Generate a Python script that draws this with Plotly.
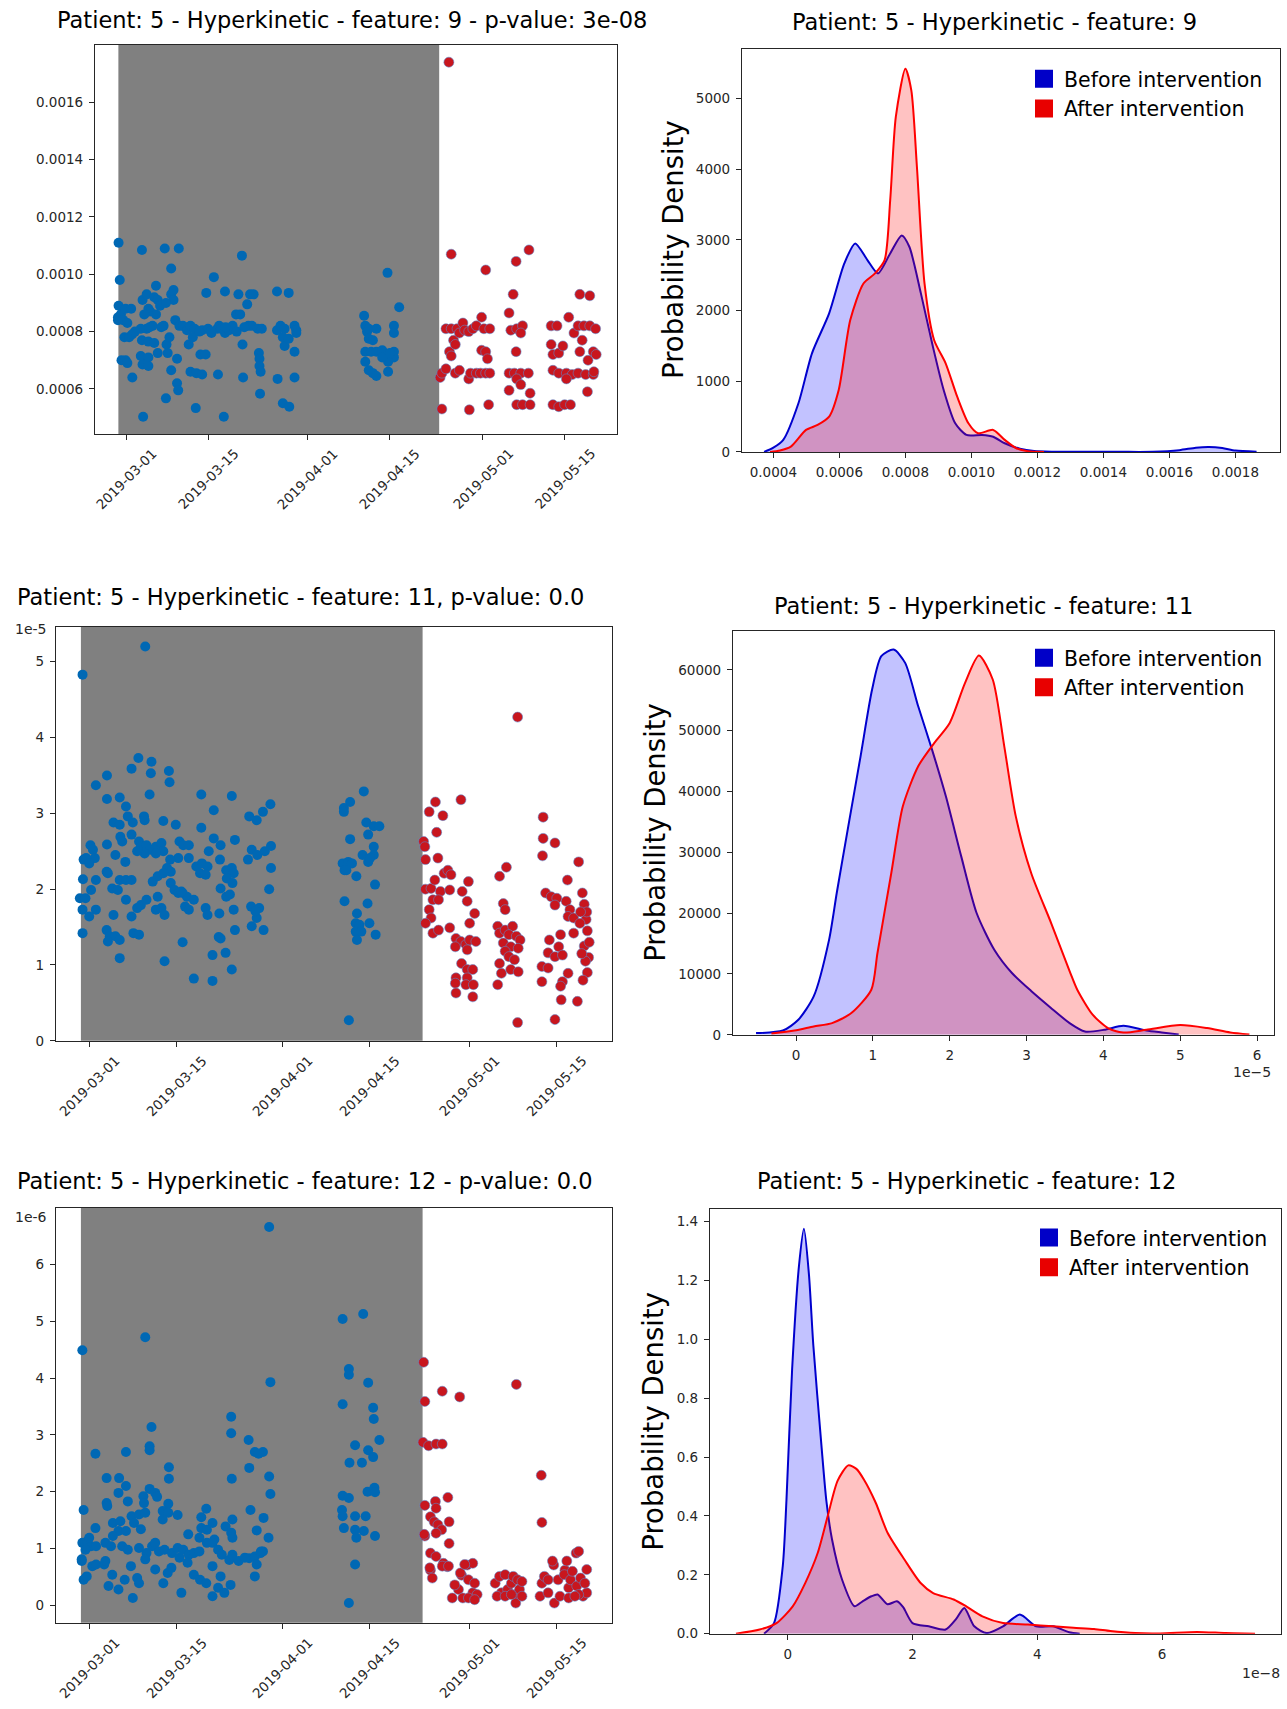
import pandas as pd
import plotly.graph_objects as go

FIG_W, FIG_H = 1287, 1709
BASE_DAY = pd.Timestamp("2019-03-01")

DATE_TICKS = ["2019-03-01", "2019-03-15", "2019-04-01", "2019-04-15", "2019-05-01", "2019-05-15"]
SHADE_START, SHADE_END = "2019-02-27 16:00", "2019-04-23 13:00"
DATE_RANGE = ["2019-02-23 16:00", "2019-05-23 23:00"]

# ---- feature 9 scatter: (days after 2019-03-01, value in 1e-4)
f9_before = [
    (-1.3, 11.1), (-1.1, 9.8), (-1.3, 8.9), (-1.4, 8.5), (-0.9, 8.6), (-0.1, 8.8), (0.85, 8.8), (-1.4, 8.4),
    (-0.5, 8.4), (0.2, 8.3), (-0.8, 7.0), (-0.1, 7.0), (0.2, 6.9), (-0.3, 7.8), (0.5, 7.8), (1.0, 7.9), (1.05, 6.4),
    (2.7, 10.85), (2.9, 5.03), (2.8, 9.1), (3.5, 9.3), (3.8, 8.8), (4.1, 8.7), (3.1, 8.6), (2.5, 8.1), (3.5, 8.1),
    (4.5, 8.2), (5.1, 9.6), (4.8, 9.2), (5.4, 9.1), (5.8, 8.9), (5.1, 8.6), (2.7, 7.7), (3.8, 7.65), (4.8, 7.6),
    (2.5, 7.15), (3.8, 7.1), (2.8, 6.85), (3.8, 6.8), (6.4, 8.2), (6.9, 7.55), (5.4, 7.25), (1.5, 8.0), (4.0, 8.15),
    (6.0, 8.15), (6.6, 10.9), (7.7, 10.2), (9.0, 10.9), (7.7, 9.3), (8.1, 9.45), (8.1, 9.1), (6.8, 9.0), (7.1, 7.25),
    (7.7, 6.65), (8.7, 7.05), (6.8, 5.67), (8.7, 6.2), (8.9, 5.95), (7.4, 7.8), (8.4, 8.4), (9.1, 8.2), (9.7, 8.2),
    (10.4, 8.05), (11.0, 8.2), (11.7, 8.1), (10.7, 7.55), (11.4, 7.8), (11.9, 5.33), (11.0, 6.6), (12.0, 6.55),
    (13.0, 6.5), (12.7, 7.2), (13.6, 7.2), (13.0, 8.05), (14.0, 8.1), (15.0, 9.9), (13.7, 9.35), (14.6, 7.95),
    (15.6, 8.1), (15.9, 8.2), (15.7, 6.5), (16.7, 5.03), (16.9, 9.4), (16.9, 7.95), (17.6, 8.05), (18.2, 8.2),
    (18.9, 8.0), (19.2, 9.3), (18.8, 8.6), (19.5, 8.6), (19.8, 10.65), (20.0, 6.4), (19.9, 7.55), (20.7, 8.95),
    (21.2, 9.3), (21.8, 9.3), (20.9, 8.2), (21.5, 8.2), (22.5, 8.1), (23.2, 8.1), (22.7, 7.25), (22.8, 7.05),
    (22.8, 6.8), (23.0, 6.6), (22.9, 5.83), (12.5, 8.0), (14.5, 8.0), (16.2, 8.1), (17.0, 8.15), (20.2, 8.15),
    (25.8, 9.4), (27.8, 9.35), (25.8, 8.05), (26.4, 8.2), (27.1, 8.1), (26.8, 7.8), (27.1, 7.5), (27.8, 7.75),
    (28.8, 8.2), (29.1, 8.05), (29.1, 7.95), (28.8, 7.3), (25.9, 6.35), (28.8, 6.4), (26.8, 5.5), (27.9, 5.38),
    (40.7, 8.55), (40.9, 8.2), (41.2, 8.0), (41.5, 8.1), (42.8, 8.1), (41.5, 7.75), (42.2, 7.7), (40.9, 7.3),
    (41.9, 7.3), (42.8, 7.3), (43.8, 7.35), (40.9, 6.95), (41.5, 6.65), (42.2, 6.55), (42.8, 6.45), (44.7, 10.05),
    (45.8, 8.2), (45.8, 7.95), (46.7, 8.85), (45.8, 7.3), (45.8, 7.1), (44.8, 6.95), (44.8, 6.6), (43.8, 7.1),
    (45.1, 7.25),
]
f9_after = [
    (55.2, 17.4), (55.6, 10.7), (54.0, 5.3), (53.7, 6.4), (54.0, 6.55), (54.7, 6.7), (55.3, 7.3), (55.6, 7.15),
    (54.7, 8.1), (55.6, 8.1), (56.6, 8.1), (56.0, 7.7), (56.3, 7.55), (57.0, 7.95), (57.6, 8.3), (57.9, 8.05),
    (58.6, 8.0), (59.3, 8.1), (59.9, 8.2), (60.8, 8.5), (61.2, 8.1), (62.2, 8.1), (56.3, 6.55), (57.0, 6.65),
    (58.6, 6.35), (58.9, 6.55), (59.9, 6.55), (60.6, 6.55), (61.5, 6.55), (62.2, 6.55), (58.7, 5.27), (62.0, 5.45),
    (60.8, 7.35), (61.5, 7.3), (61.8, 7.05), (61.5, 10.15),
    (66.7, 10.45), (68.9, 10.85), (66.2, 9.3), (65.5, 8.65), (65.8, 8.05), (66.8, 8.1), (67.8, 8.2), (67.5, 7.95),
    (66.7, 7.3), (65.5, 6.55), (66.4, 6.55), (67.5, 6.55), (68.8, 6.55), (66.8, 6.35), (67.5, 6.15), (65.5, 5.95),
    (69.1, 5.85), (66.8, 5.45), (67.8, 5.45), (69.1, 5.45),
    (72.7, 8.2), (73.7, 8.2), (75.7, 8.5), (72.7, 7.55), (73.0, 7.2), (74.0, 7.25), (74.7, 7.5), (73.0, 6.65),
    (74.0, 6.55), (75.3, 6.55), (76.3, 6.5), (77.3, 6.55), (78.6, 6.5), (79.9, 6.5), (75.3, 6.35), (73.0, 5.45),
    (74.0, 5.38), (75.0, 5.45), (76.0, 5.45), (78.9, 5.9), (77.6, 9.3), (79.3, 9.25), (76.6, 7.95), (77.3, 8.2),
    (78.3, 8.2), (79.3, 8.2), (78.0, 7.7), (77.6, 7.3), (79.9, 7.3), (80.3, 8.1), (80.0, 6.6), (79.0, 7.0),
    (80.4, 7.2),
]

# ---- feature 11 scatter: (days, value in 1e-5)
f11_before = [
    (-1.07, 4.83), (9.0, 5.2), (1.07, 3.37), (2.85, 3.5), (7.9, 3.73), (6.8, 3.59), (10.0, 3.68), (9.9, 3.53),
    (12.8, 3.56), (12.9, 3.41), (9.7, 3.25), (18.0, 3.25), (22.9, 3.23), (20.0, 3.04), (2.85, 3.19), (4.9, 3.21),
    (5.9, 3.09), (6.2, 2.96), (8.8, 2.96), (8.9, 2.91), (3.9, 2.88), (4.9, 2.85), (7.0, 2.88), (11.9, 2.9),
    (13.9, 2.85), (18.0, 2.81), (25.7, 2.96), (26.9, 2.91), (27.9, 3.02), (29.1, 3.12), (23.4, 2.65), (20.0, 2.67),
    (21.1, 2.58), (2.85, 2.59), (0.2, 2.58), (0.6, 2.52), (-0.9, 2.39), (-0.5, 2.41), (0.9, 2.41), (0.0, 2.34),
    (5.0, 2.69), (5.3, 2.63), (6.8, 2.72), (8.0, 2.63), (8.3, 2.56), (9.2, 2.58), (9.8, 2.52), (10.7, 2.56),
    (11.6, 2.61), (11.9, 2.5), (10.7, 2.47), (8.9, 2.47), (7.7, 2.5), (4.2, 2.45), (5.8, 2.36), (14.5, 2.63),
    (15.1, 2.58), (16.0, 2.58), (16.0, 2.41), (14.3, 2.41), (13.0, 2.39), (12.5, 2.28), (13.1, 2.23), (17.2, 2.3),
    (18.1, 2.34), (19.0, 2.3), (17.8, 2.21), (18.7, 2.19), (19.2, 2.5), (21.0, 2.39), (22.0, 2.25), (22.9, 2.28),
    (23.2, 2.21), (25.5, 2.39), (26.1, 2.52), (27.0, 2.45), (28.2, 2.5), (29.2, 2.57), (29.2, 2.28), (22.1, 2.14),
    (23.0, 2.08), (21.1, 2.01), (28.9, 2.0), (-1.0, 2.13), (-1.5, 1.88), (-1.07, 1.73), (-0.6, 1.88), (0.3, 1.99),
    (1.07, 2.12), (0.0, 1.64), (1.07, 1.73), (-1.07, 1.42), (2.8, 2.23), (3.0, 2.21), (3.7, 2.01), (4.6, 1.99),
    (4.9, 2.12), (5.9, 2.12), (6.8, 2.12), (5.9, 1.86), (3.9, 1.66), (6.8, 1.64), (7.7, 1.75), (8.3, 1.79),
    (9.2, 1.86), (10.2, 2.1), (11.0, 2.17), (11.9, 2.21), (13.1, 2.08), (13.7, 1.99), (14.3, 1.95), (15.0, 1.95),
    (15.7, 1.9), (16.8, 1.86), (15.4, 1.77), (14.8, 1.97), (11.0, 1.9), (10.7, 1.73), (11.6, 1.75), (12.1, 1.66),
    (16.0, 1.73), (18.7, 1.75), (19.0, 1.66), (20.9, 1.68), (23.2, 1.73), (22.0, 1.9), (22.6, 1.93), (2.8, 1.46),
    (3.3, 1.38), (4.2, 1.38), (3.0, 1.31), (4.9, 1.33), (7.1, 1.42), (8.0, 1.4), (4.9, 1.09), (12.1, 1.05),
    (15.0, 1.3), (20.8, 1.37), (21.1, 1.35), (23.4, 1.46), (19.8, 1.13), (21.9, 1.16), (22.9, 0.94), (16.8, 0.82),
    (19.8, 0.79), (26.1, 1.51), (26.9, 1.62), (27.3, 1.75), (26.0, 1.77), (28.0, 1.46), (26.7, 1.71),
    (40.9, 3.07), (41.9, 3.15), (44.1, 3.29), (40.9, 3.02), (41.9, 2.66), (44.5, 2.88), (44.8, 2.72), (45.7, 2.83),
    (46.6, 2.83), (45.7, 2.56), (45.7, 2.45), (43.9, 2.45), (44.8, 2.36), (45.1, 2.41), (40.7, 2.34), (41.6, 2.36),
    (42.2, 2.34), (41.0, 2.25), (41.3, 2.25), (42.9, 2.17), (45.9, 2.06), (41.0, 1.84), (44.7, 1.81), (43.0, 1.68),
    (42.8, 1.55), (43.4, 1.53), (42.8, 1.44), (43.7, 1.44), (43.0, 1.33), (45.0, 1.55), (46.0, 1.4), (41.7, 0.27),
]
f11_after = [
    (53.7, 2.63), (53.9, 2.56), (54.0, 2.39), (54.6, 3.02), (55.6, 3.15), (56.8, 2.97), (55.8, 2.75), (56.0, 2.41),
    (59.7, 3.18), (54.0, 2.0), (54.9, 2.01), (55.5, 2.12), (56.4, 1.97), (57.0, 2.21), (57.6, 2.25), (58.1, 2.19),
    (57.9, 1.99), (55.2, 1.86), (56.1, 1.86), (54.6, 1.73), (54.9, 1.62), (54.0, 1.55), (55.2, 1.42), (56.1, 1.46),
    (57.9, 1.49), (59.9, 1.97), (60.9, 2.1), (60.7, 1.84), (61.9, 1.68), (61.1, 1.55), (58.9, 1.35), (59.7, 1.31),
    (60.5, 1.27), (61.1, 1.33), (62.1, 1.31), (58.8, 1.24), (60.7, 1.2), (59.8, 1.02), (60.7, 0.94), (61.6, 0.94),
    (58.9, 0.83), (58.8, 0.76), (60.7, 0.83), (60.5, 0.74), (61.7, 0.74), (58.9, 0.63), (61.6, 0.58),
    (68.8, 4.27), (65.9, 2.17), (67.0, 2.29), (66.5, 1.81), (66.8, 1.73), (65.6, 1.51), (65.9, 1.42), (66.8, 1.46),
    (68.0, 1.51), (67.4, 1.4), (68.6, 1.38), (69.2, 1.33), (66.5, 1.29), (67.7, 1.24), (68.9, 1.22), (66.8, 1.18),
    (67.4, 1.11), (68.3, 1.07), (65.9, 1.02), (66.2, 0.89), (67.7, 0.94), (68.9, 0.91), (65.6, 0.74), (68.8, 0.24),
    (72.9, 2.95), (72.9, 2.67), (74.8, 2.61), (72.8, 2.44), (76.8, 2.12), (73.3, 1.95), (74.2, 1.9), (75.1, 1.88),
    (74.8, 1.79), (76.6, 1.84), (77.2, 1.73), (76.9, 1.64), (77.8, 1.62), (77.8, 1.42), (73.9, 1.33), (75.7, 1.4),
    (75.4, 1.24), (73.7, 1.16), (74.8, 1.11), (76.0, 1.13), (72.7, 0.98), (73.7, 0.96), (76.9, 0.89), (72.7, 0.78),
    (76.0, 0.78), (75.7, 0.72), (75.8, 0.54), (78.4, 0.52), (74.8, 0.28), (78.6, 2.36), (79.2, 1.95), (79.5, 1.8),
    (79.8, 1.6), (80.0, 1.45), (79.5, 1.25), (80.2, 1.1), (79.7, 1.05), (80.0, 0.9), (79.3, 0.8), (79.9, 1.7),
    (80.3, 1.3), (78.8, 1.55), (78.9, 1.7), (79.1, 1.15),
]

# ---- feature 12 scatter: (days, value in 1e-6)
f12_before = [
    (28.9, 6.66), (29.1, 3.93), (-1.1, 4.49), (9.0, 4.72), (40.7, 5.04), (44.0, 5.13), (41.7, 4.16), (41.7, 4.06),
    (44.8, 3.92), (40.7, 3.54), (45.6, 3.48), (45.7, 3.28), (46.6, 2.91), (42.7, 2.82), (44.8, 2.73), (45.6, 2.61),
    (41.8, 2.51), (43.8, 2.51), (44.7, 2.0), (45.8, 2.07), (45.9, 1.99), (40.7, 1.93), (41.7, 1.89), (40.6, 1.68),
    (40.7, 1.57), (40.9, 1.36), (42.7, 1.57), (44.4, 1.57), (42.7, 1.33), (44.1, 1.31), (42.9, 1.19), (45.9, 1.22),
    (42.7, 0.72), (41.7, 0.04),
    (1.0, 2.67), (5.9, 2.7), (10.0, 3.14), (9.7, 2.8), (9.7, 2.73), (12.8, 2.43), (12.8, 2.23), (22.8, 3.32),
    (22.8, 3.03), (22.9, 2.23), (25.6, 2.91), (25.7, 2.42), (26.6, 2.7), (27.9, 2.7), (27.2, 2.67), (28.9, 2.27),
    (29.1, 1.96), (2.8, 2.24), (4.8, 2.24), (5.9, 2.1), (4.7, 1.98), (6.2, 1.83), (2.8, 1.8), (2.9, 1.75),
    (8.7, 1.92), (8.8, 1.8), (9.7, 2.05), (10.6, 1.98), (10.9, 1.91), (12.7, 1.79), (11.8, 1.66), (12.7, 1.63),
    (11.8, 1.51), (-0.9, 1.68), (1.0, 1.36), (-1.1, 1.1), (-0.3, 1.13), (0.3, 1.04), (-0.6, 0.98), (0.0, 1.19),
    (-1.2, 0.78), (3.8, 1.45), (5.0, 1.48), (4.7, 1.31), (3.8, 1.22), (5.9, 1.31), (6.8, 1.57), (8.0, 1.6),
    (9.0, 1.63), (7.2, 1.45), (8.3, 1.34), (14.2, 1.59), (18.8, 1.7), (18.0, 1.55), (18.0, 1.36), (19.8, 1.45),
    (18.9, 1.33), (17.7, 1.19), (15.9, 1.25), (20.1, 1.16), (21.9, 1.39), (22.8, 1.28), (23.0, 1.51), (23.0, 1.19),
    (25.9, 1.68), (26.9, 1.32), (28.0, 1.54), (28.8, 1.19), (1.1, 1.04), (2.6, 1.1), (3.5, 1.04), (5.3, 1.04),
    (6.2, 0.98), (8.0, 1.01), (9.2, 0.92), (10.1, 1.04), (10.6, 1.1), (11.2, 0.95), (12.1, 0.98), (13.3, 0.92),
    (14.2, 1.01), (15.1, 0.98), (16.0, 0.89), (16.8, 0.92), (17.7, 0.95), (18.9, 1.1), (19.8, 1.1), (20.7, 0.98),
    (21.3, 0.89), (22.5, 0.8), (25.7, 0.83), (26.6, 0.86), (27.5, 0.92), (27.9, 0.95),
    (-1.2, 0.81), (-0.9, 0.45), (-0.4, 0.51), (0.5, 0.69), (1.1, 0.72), (2.4, 0.72), (2.6, 0.78), (3.1, 0.34),
    (3.7, 0.54), (4.7, 0.28), (5.7, 0.45), (7.0, 0.13), (6.7, 0.69), (7.7, 0.48), (8.0, 0.39), (9.0, 0.81),
    (10.6, 0.63), (11.9, 0.39), (12.6, 0.57), (13.2, 0.66), (14.8, 0.22), (16.8, 0.54), (17.8, 0.45), (18.8, 0.39),
    (19.8, 0.16), (20.7, 0.31), (21.1, 0.51), (21.7, 0.22), (22.7, 0.36), (24.0, 0.78), (25.0, 0.84), (26.6, 0.51),
    (26.9, 0.72), (15.8, 0.75), (14.5, 0.84), (19.8, 0.69), (23.0, 0.89), (27.6, 0.95),
]
f12_after = [
    (53.7, 4.28), (53.9, 3.59), (56.7, 3.77), (59.5, 3.67), (68.6, 3.89), (53.6, 2.87), (54.5, 2.81), (55.7, 2.84),
    (56.7, 2.84), (72.6, 2.29), (72.7, 1.46), (53.9, 1.76), (55.6, 1.83), (55.7, 1.71), (57.6, 1.9), (54.8, 1.56),
    (55.4, 1.47), (56.0, 1.42), (57.8, 1.47), (56.6, 1.33), (55.7, 1.27), (53.9, 1.22), (57.8, 1.09), (54.8, 0.92),
    (55.7, 0.86), (56.9, 0.74), (57.5, 0.68), (59.8, 0.53), (60.7, 0.71), (61.6, 0.74), (54.8, 0.62), (74.6, 0.71),
    (78.2, 0.92), (76.4, 0.62),
    (53.8, 1.25), (54.7, 0.66), (55.1, 0.48), (56.7, 0.69), (57.7, 0.69), (58.3, 0.13), (59.3, 0.28), (59.6, 0.57),
    (60.3, 0.72), (60.9, 0.45), (61.6, 0.22), (61.9, 0.39), (62.3, 0.19), (58.7, 0.36), (60.0, 0.13), (60.9, 0.13),
    (61.9, 0.1), (65.2, 0.39), (65.9, 0.51), (66.2, 0.22), (66.8, 0.54), (67.2, 0.28), (67.8, 0.39), (68.1, 0.51),
    (68.5, 0.19), (68.8, 0.45), (69.1, 0.28), (68.5, 0.04), (65.5, 0.16), (66.8, 0.16), (67.8, 0.19), (69.5, 0.16),
    (69.5, 0.42), (72.4, 0.16), (72.7, 0.39), (73.1, 0.51), (73.7, 0.45), (74.4, 0.78), (74.7, 0.04), (75.3, 0.45),
    (76.3, 0.54), (76.7, 0.78), (77.0, 0.31), (77.3, 0.45), (77.6, 0.6), (78.3, 0.34), (78.6, 0.95), (78.9, 0.48),
    (79.3, 0.16), (79.9, 0.63), (79.9, 0.22), (75.6, 0.16), (73.7, 0.22), (77.0, 0.13), (78.6, 0.19), (79.6, 0.39),
    (78.0, 0.16),
]

# ---- KDE curves
kde9_before_x = [3.72, 4.0, 4.3, 4.76, 5.17, 5.69, 6.15, 6.48, 6.85, 7.17, 7.54, 7.89, 8.12, 8.47, 8.81, 9.16,
                 9.51, 9.85, 10.32, 10.66, 11.01, 11.47, 11.9, 12.5, 13.5, 14.5, 15.5, 16.3, 16.8, 17.2, 17.6,
                 18.0, 18.64]  # x in 1e-4
kde9_before_y = [0, 60, 170, 688, 1395, 1960, 2666, 2950, 2713, 2525, 2808, 3062, 2902, 2243, 1536, 876,
                 405, 240, 240, 215, 122, 45, 12, 3, 1, 1, 2, 25, 60, 70, 55, 20, 3]
kde9_after_x = [3.9, 4.2, 4.53, 4.99, 5.34, 5.69, 5.98, 6.33, 6.73, 7.08, 7.37, 7.54, 7.71, 8.0, 8.18, 8.35,
                8.58, 8.87, 9.22, 9.57, 9.91, 10.2, 10.66, 11.01, 11.36, 11.71, 12.2]
kde9_after_y = [0, 20, 75, 311, 381, 499, 876, 1865, 2383, 2525, 2713, 3561, 4738, 5422, 5115, 4031,
                2383, 1583, 1253, 781, 405, 264, 311, 170, 52, 10, 0]

kde11_before_x = [-0.52, -0.17, 0.03, 0.23, 0.43, 0.53, 0.68, 0.84, 0.99, 1.11, 1.27, 1.42, 1.59, 1.77, 1.95,
                  2.15, 2.35, 2.58, 2.81, 3.06, 3.31, 3.56, 3.76, 4.01, 4.26, 4.56, 4.76, 4.98]  # x in 1e-5
kde11_before_y = [280, 700, 2468, 6300, 15600, 23310, 34270, 45780, 56750, 62230, 63330, 61140, 54000, 46880,
                  39200, 29330, 20020, 13980, 10150, 7200, 4500, 1925, 543, 822, 1480, 700, 380, 50]
kde11_after_x = [-0.32, -0.02, 0.23, 0.47, 0.72, 0.98, 1.06, 1.24, 1.39, 1.59, 1.8, 2.0, 2.2, 2.38, 2.56, 2.71,
                 2.86, 3.06, 3.32, 3.57, 3.66, 3.86, 4.06, 4.26, 4.56, 5.0, 5.35, 5.65, 5.9]
kde11_after_y = [200, 700, 1365, 1925, 3570, 7400, 13440, 26600, 37560, 44140, 47980, 51270, 57850, 62340,
                 58400, 47420, 35900, 26600, 18370, 10150, 7400, 3300, 1100, 380, 822, 1600, 1100, 380, 50]

kde12_before_x = [-0.38, -0.22, -0.08, -0.02, 0.07, 0.18, 0.26, 0.34, 0.41, 0.54, 0.62, 0.71, 0.87, 1.07, 1.2,
                  1.34, 1.44, 1.6, 1.75, 1.85, 2.0, 2.26, 2.53, 2.7, 2.83, 2.99, 3.19, 3.45, 3.72, 3.98, 4.25,
                  4.51, 4.68]  # x in 1e-8
kde12_before_y = [0, 0.036, 0.229, 0.456, 0.898, 1.25, 1.376, 1.22, 0.98, 0.64, 0.45, 0.32, 0.184, 0.093,
                  0.11, 0.127, 0.133, 0.1, 0.11, 0.09, 0.036, 0.025, 0.014, 0.05, 0.087, 0.025, 0.002, 0.025,
                  0.065, 0.025, 0.025, 0.005, 0]
kde12_after_x = [-0.83, -0.45, -0.18, 0.08, 0.28, 0.48, 0.64, 0.8, 0.97, 1.1, 1.22, 1.41, 1.6, 1.87, 2.13,
                 2.33, 2.66, 2.86, 3.12, 3.45, 3.85, 4.25, 4.58, 4.91, 5.17, 5.57, 5.97, 6.56, 7.02, 7.49]
kde12_after_y = [0, 0.014, 0.036, 0.093, 0.172, 0.274, 0.399, 0.52, 0.572, 0.56, 0.524, 0.445, 0.343, 0.252,
                 0.172, 0.138, 0.116, 0.093, 0.059, 0.036, 0.031, 0.025, 0.02, 0.016, 0.009, 0.002, 0.001,
                 0.006, 0.002, 0]

BLUE_DOT = "#0068b4"
RED_DOT = "#c8161e"
KDE_BLUE = "#0000cd"
KDE_RED = "#ff0000"
AXIS_COLOR = "#262626"
FONT = "DejaVu Sans"

# plot boxes in pixels: left, top, right, bottom
BOXES = {
    1: (95, 45, 617, 434),
    2: (742, 49, 1280, 452),
    3: (56, 627, 612, 1041),
    4: (733, 631, 1274, 1035),
    5: (56, 1208, 612, 1623),
    6: (710, 1209, 1281, 1634),
}
V_STRETCH = 1.0045  # slight vertical spread so lower panels line up with the source image


def px_x(px):
    return px / FIG_W


def px_y(py):
    return 1 - py * V_STRETCH / FIG_H


def refs(i):
    return ("x", "y") if i == 1 else (f"x{i}", f"y{i}")


def to_dates(days):
    return [BASE_DAY + pd.Timedelta(days=d) for d in days]


fig = go.Figure()


def add_points(pairs, scale, color, outline, i):
    xr, yr = refs(i)
    days = [p[0] for p in pairs]
    vals = [p[1] * scale for p in pairs]
    fig.add_trace(go.Scatter(
        x=to_dates(days), y=vals, mode="markers", xaxis=xr, yaxis=yr, showlegend=False,
        marker=dict(size=10, color=color, line=outline),
    ))


def add_kde(xs, ys, scale, line_color, fill_color, i):
    xr, yr = refs(i)
    fig.add_trace(go.Scatter(
        x=[v * scale for v in xs], y=ys, mode="lines", xaxis=xr, yaxis=yr, showlegend=False,
        line=dict(color=line_color, width=2, shape="spline", smoothing=0.7),
        fill="tozeroy", fillcolor=fill_color,
    ))


no_line = dict(width=0)
red_edge = dict(width=0.7, color="rgba(90,140,210,0.8)")

add_points(f9_before, 1e-4, BLUE_DOT, no_line, 1)
add_points(f9_after, 1e-4, RED_DOT, red_edge, 1)
add_points(f11_before, 1, BLUE_DOT, no_line, 3)
add_points(f11_after, 1, RED_DOT, red_edge, 3)
add_points(f12_before, 1, BLUE_DOT, no_line, 5)
add_points(f12_after, 1, RED_DOT, red_edge, 5)

BLUE_FILL = "rgba(0,0,255,0.24)"
RED_FILL = "rgba(255,0,0,0.24)"
add_kde(kde9_before_x, kde9_before_y, 1e-4, KDE_BLUE, BLUE_FILL, 2)
add_kde(kde9_after_x, kde9_after_y, 1e-4, KDE_RED, RED_FILL, 2)
add_kde(kde11_before_x, kde11_before_y, 1, KDE_BLUE, BLUE_FILL, 4)
add_kde(kde11_after_x, kde11_after_y, 1, KDE_RED, RED_FILL, 4)
add_kde(kde12_before_x, kde12_before_y, 1, KDE_BLUE, BLUE_FILL, 6)
add_kde(kde12_after_x, kde12_after_y, 1, KDE_RED, RED_FILL, 6)

# legend entries (square patches) for each density panel
for i, leg in ((2, "legend"), (4, "legend2"), (6, "legend3")):
    xr, yr = refs(i)
    for name, color in (("Before intervention", "#0000c8"), ("After intervention", "#e80000")):
        fig.add_trace(go.Scatter(
            x=[None], y=[None], mode="markers", name=name, xaxis=xr, yaxis=yr, legend=leg,
            marker=dict(symbol="square", size=16, color=color, line=dict(width=2, color=color)),
        ))

AXIS_STYLE = dict(
    showline=True, mirror=True, linecolor=AXIS_COLOR, linewidth=1.2, ticks="outside", ticklen=5,
    tickwidth=1.2, tickcolor=AXIS_COLOR, showgrid=False, zeroline=False,
    tickfont=dict(size=13.5, color=AXIS_COLOR, family=FONT),
)

layout = dict(
    width=FIG_W, height=FIG_H, margin=dict(l=0, r=0, t=0, b=0),
    paper_bgcolor="white", plot_bgcolor="white", font=dict(family=FONT, color="black"),
)

axis_ranges = {
    1: dict(x=dict(type="date", range=DATE_RANGE, tickvals=DATE_TICKS, showticklabels=False),
            y=dict(range=[0.000443, 0.0018], tickvals=[0.0006, 0.0008, 0.001, 0.0012, 0.0014, 0.0016],
                   tickformat=".4f")),
    2: dict(x=dict(range=[0.000305, 0.001935], tickvals=[0.0004 + 0.0002 * k for k in range(8)],
                   tickformat=".4f"),
            y=dict(range=[0, 5700], tickvals=[0, 1000, 2000, 3000, 4000, 5000], tickformat="d")),
    3: dict(x=dict(type="date", range=DATE_RANGE, tickvals=DATE_TICKS, showticklabels=False),
            y=dict(range=[0, 5.46], tickvals=[0, 1, 2, 3, 4, 5])),
    4: dict(x=dict(range=[-0.82, 6.22], tickvals=[0, 1, 2, 3, 4, 5, 6]),
            y=dict(range=[0, 66400], tickvals=[0, 10000, 20000, 30000, 40000, 50000, 60000], tickformat="d")),
    5: dict(x=dict(type="date", range=DATE_RANGE, tickvals=DATE_TICKS, showticklabels=False),
            y=dict(range=[-0.305, 7.0], tickvals=[0, 1, 2, 3, 4, 5, 6])),
    6: dict(x=dict(range=[-1.246, 7.906], tickvals=[0, 2, 4, 6]),
            y=dict(range=[0, 1.444], tickvals=[0, 0.2, 0.4, 0.6, 0.8, 1.0, 1.2, 1.4], tickformat=".1f")),
}

for i, (l, t, r, b) in BOXES.items():
    xname = "xaxis" if i == 1 else f"xaxis{i}"
    yname = "yaxis" if i == 1 else f"yaxis{i}"
    xr, yr = refs(i)
    layout[xname] = dict(AXIS_STYLE, domain=[px_x(l), px_x(r)], anchor=yr, ticklabelstandoff=3,
                         **axis_ranges[i]["x"])
    layout[yname] = dict(AXIS_STYLE, domain=[px_y(b), px_y(t)], anchor=xr, ticklabelstandoff=3,
                         **axis_ranges[i]["y"])

# shaded "before intervention" period on the time-series panels
shapes = []
for i in (1, 3, 5):
    xr, yr = refs(i)
    shapes.append(dict(type="rect", xref=xr, yref=f"{yr} domain", x0=SHADE_START, x1=SHADE_END, y0=0, y1=1,
                       fillcolor="#808080", line=dict(width=0), layer="below"))
layout["shapes"] = shapes

annotations = []
titles = [
    ("Patient: 5 - Hyperkinetic - feature: 9 - p-value: 3e-08", 55, 20),
    ("Patient: 5 - Hyperkinetic - feature: 9", 790, 22),
    ("Patient: 5 - Hyperkinetic - feature: 11, p-value: 0.0", 15, 597),
    ("Patient: 5 - Hyperkinetic - feature: 11", 772, 606),
    ("Patient: 5 - Hyperkinetic - feature: 12 - p-value: 0.0", 15, 1181),
    ("Patient: 5 - Hyperkinetic - feature: 12", 755, 1181),
]
for text, x, y in titles:
    annotations.append(dict(text=text, x=px_x(x), y=px_y(y), xref="paper", yref="paper", xanchor="left",
                            yanchor="middle", showarrow=False, font=dict(size=22.5, color="black")))

for x, y in ((673, 250), (655, 833), (653, 1421)):
    annotations.append(dict(text="Probability Density", x=px_x(x), y=px_y(y), xref="paper", yref="paper",
                            xanchor="center", yanchor="middle", textangle=-90, showarrow=False,
                            font=dict(size=27.5, color="black")))

# rotated date tick labels, centred under each tick like the original
for i in (1, 3, 5):
    xr, _ = refs(i)
    bottom = BOXES[i][3]
    for d in DATE_TICKS:
        annotations.append(dict(text=d, x=d, y=px_y(bottom + 9), xref=xr, yref="paper", textangle=-45,
                                xanchor="center", yanchor="top", showarrow=False,
                                font=dict(size=13.5, color=AXIS_COLOR)))

for text, x, y in (("1e-5", 48, 629), ("1e-6", 49, 1217), ("1e\u22125", 1273, 1072), ("1e\u22128", 1282, 1673)):
    annotations.append(dict(text=text, x=px_x(x), y=px_y(y), xref="paper", yref="paper", xanchor="right",
                            yanchor="middle", showarrow=False, font=dict(size=14, color=AXIS_COLOR)))
layout["annotations"] = annotations

LEGEND_STYLE = dict(xanchor="left", yanchor="top", bgcolor="rgba(0,0,0,0)", borderwidth=0,
                    font=dict(size=20.5, color="black", family=FONT), itemsizing="trace", tracegroupgap=0)
layout["legend"] = dict(LEGEND_STYLE, x=px_x(1024), y=px_y(59))
layout["legend2"] = dict(LEGEND_STYLE, x=px_x(1024), y=px_y(638))
layout["legend3"] = dict(LEGEND_STYLE, x=px_x(1029), y=px_y(1218))

fig.update_layout(**layout)
# the page body has a default margin; drop it so the figure sits at the window origin
fig.write_html("out.html", config={"displayModeBar": False},
               post_script="document.body.style.margin = '0';")
